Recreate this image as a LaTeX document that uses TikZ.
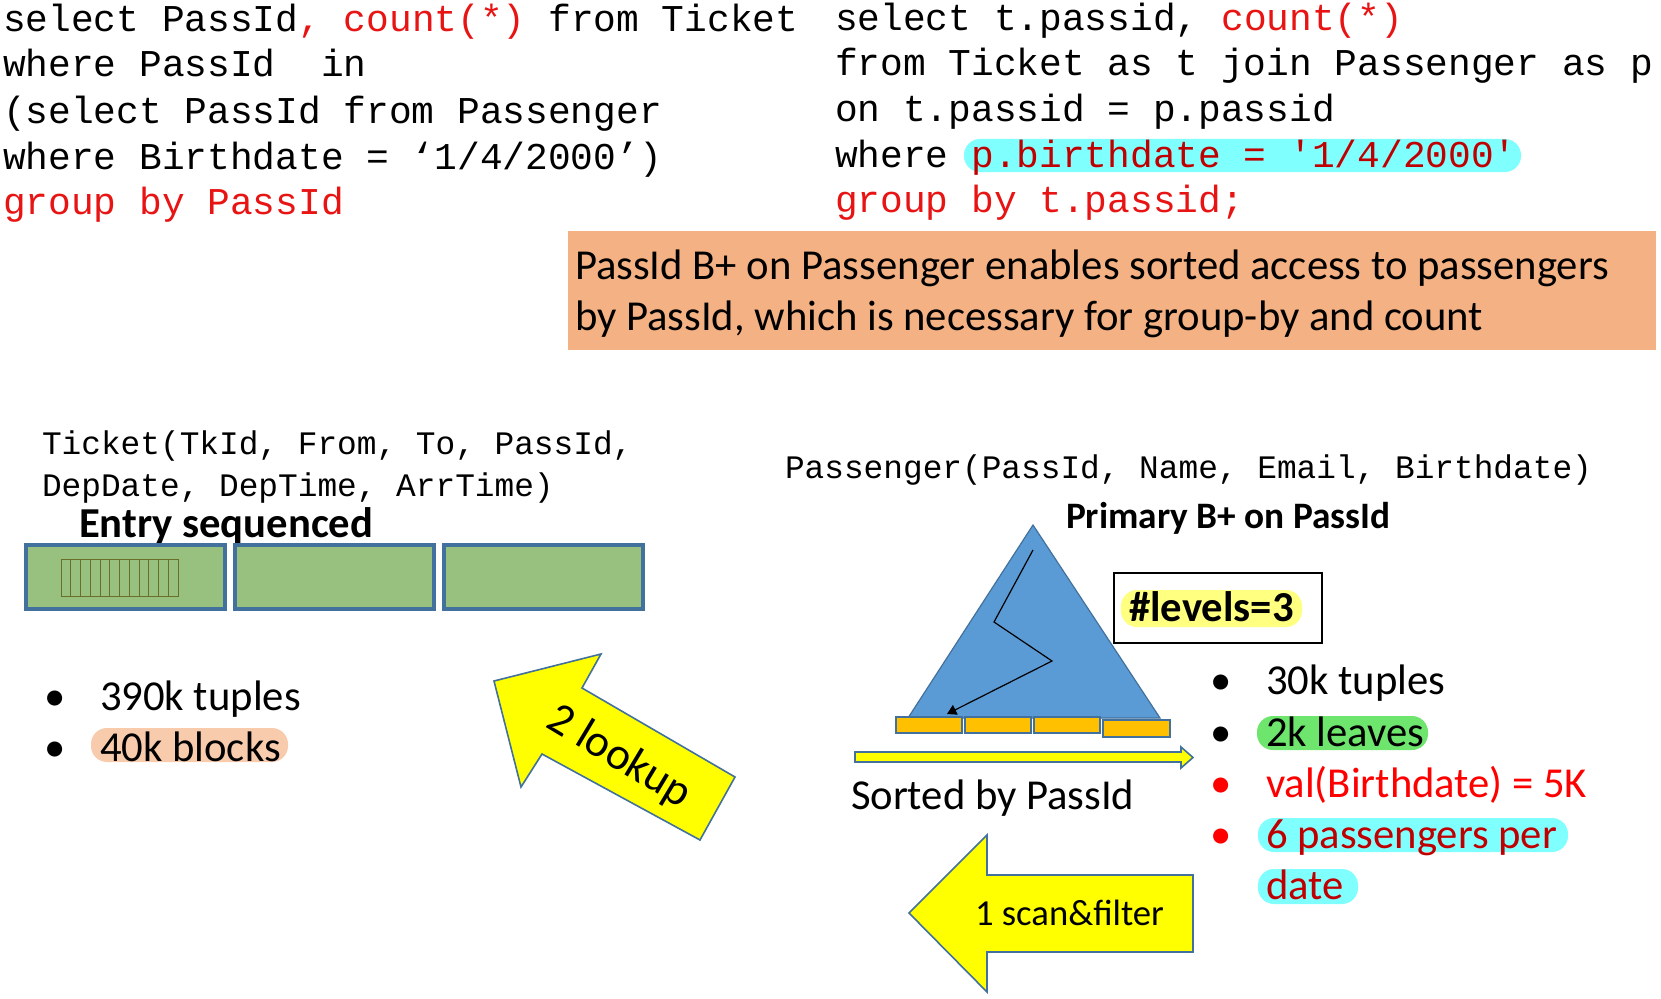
\documentclass[tikz,border=0pt]{standalone}
\usepackage{fontspec}
\setmainfont{Carlito}
\setmonofont{Liberation Mono}
\usetikzlibrary{arrows.meta}
\definecolor{codered}{RGB}{232,20,20}
\definecolor{darkred}{RGB}{192,0,0}
\definecolor{brightred}{RGB}{255,0,0}
\definecolor{orangebox}{RGB}{244,177,131}
\definecolor{peach}{RGB}{248,203,173}
\definecolor{cyanhl}{RGB}{128,255,255}
\definecolor{greenhl}{RGB}{110,230,110}
\definecolor{yellowhl}{RGB}{255,255,128}
\definecolor{blockgreen}{RGB}{152,193,128}
\definecolor{steel}{RGB}{65,113,156}
\definecolor{triblue}{RGB}{91,155,213}
\definecolor{leafor}{RGB}{255,192,0}
\definecolor{gridcol}{RGB}{105,110,40}
\definecolor{arrowyellow}{RGB}{255,255,0}
\begin{document}
\begin{tikzpicture}[x=0.75pt,y=-0.75pt,
  txt/.style={anchor=base west,inner sep=0pt,outer sep=0pt},
  code/.style={txt,font=\ttfamily\fontsize{28.4}{34}\selectfont},
  schema/.style={txt,font=\ttfamily\fontsize{24.6}{30}\selectfont},
  body/.style={txt,font=\fontsize{32}{38}\selectfont},
  bodyb/.style={txt,font=\bfseries\fontsize{32}{38}\selectfont},
  bullet/.style={anchor=base,inner sep=0pt,outer sep=0pt,font=\fontsize{32}{38}\selectfont},
  hl/.style={rounded corners=12pt},
  blockbox/.style={draw=steel,fill=blockgreen,line width=3pt},
  leaf/.style={draw=steel,fill=leafor,line width=0.9pt},
  blockarrow/.style={draw=steel,fill=arrowyellow,line width=1.2pt,line join=miter},
  gridline/.style={draw=gridcol,line width=0.7pt}
]
\useasboundingbox (0,0) rectangle (1661,999);

% ---------- SQL code ----------
\node[code] (l1) at (3,32) {select PassId\textcolor{codered}{, count(*)} from Ticket};
\node[code] (l2) at (3,77) {where PassId\ \ in};
\node[code] (l3) at (3,123) {(select PassId from Passenger};
\node[code] (l4) at (3,169) {where Birthdate = ‘1/4/2000’)};
\node[code,text=codered] (l5) at (3,214) {group by PassId};

\fill[cyanhl,hl] (964,139) rectangle (1521,172);
\node[code] (r1) at (835,31) {select t.passid, \textcolor{codered}{count(*)}};
\node[code] (r2) at (835,76) {from Ticket as t join Passenger as p};
\node[code] (r3) at (835,122) {on t.passid = p.passid};
\node[code] (r4) at (835,167) {where \textcolor{darkred}{p.birthdate = '1/4/2000'}};
\node[code,text=codered] (r5) at (835,212) {group by t.passid;};

% ---------- orange note ----------
\fill[orangebox] (568,231) rectangle (1656,350);
\node[body] (o1) at (575,279) {PassId B+ on Passenger enables sorted access to passengers};
\node[body] (o2) at (575,330) {by PassId, which is necessary for group-by and count};

% ---------- Ticket side ----------
\node[schema] (s1) at (42,454) {Ticket(TkId, From, To, PassId,};
\node[schema] (s2) at (42,496) {DepDate, DepTime, ArrTime)};
\node[bodyb] (es) at (79,537) {Entry sequenced};

\draw[blockbox] (26,545) rectangle (225,609);
\draw[blockbox] (235,545) rectangle (434,609);
\draw[blockbox] (444,545) rectangle (643,609);
\draw[gridline] (61,559) rectangle (178,596);
\foreach \i in {1,...,11} \draw[gridline] ({61+\i*117/12},559) -- ++(0,37);

\node[bullet] (lb1) at (55,710) {•};
\node[body] (lt1) at (100,710) {390k tuples};
\fill[peach,hl] (91,728) rectangle (288,762);
\node[bullet] (lb2) at (55,761) {•};
\node[body] (lt2) at (100,761) {40k blocks};

% ---------- 2 lookup arrow ----------
\draw[blockarrow] (494,681) -- (521,787) -- (542,754) -- (700,840) -- (735,777) -- (582,688) -- (601,654) -- cycle;
\node[inner sep=0pt,rotate=-31,font=\fontsize{34}{40}\selectfont] (lk) at (619,757) {2 lookup};

% ---------- Passenger side ----------
\node[schema] (s3) at (785,478) {Passenger(PassId, Name, Email, Birthdate)};
\node[txt,font=\bfseries\fontsize{28}{34}\selectfont] (pb) at (1066,528) {Primary B+ on PassId};

\draw[steel,fill=triblue,line width=0.9pt] (1033,525) -- (908,718) -- (1160,718) -- cycle;
\draw[leaf] (896,717) rectangle (962,733);
\draw[leaf] (965,717) rectangle (1031,733);
\draw[leaf] (1034,717) rectangle (1100,733);
\draw[leaf] (1103,720) rectangle (1170,737);
\coordinate (z0) at (1033,550);
\coordinate (z1) at (994,622);
\coordinate (z2) at (1052,661);
\coordinate (z3) at (947,714);
\draw[black,line width=0.9pt,-{Triangle[width=8pt,length=7pt]}] (z0) -- (z1) -- (z2) -- (z3);

\draw[black,line width=1pt] (1114,573) rectangle (1322,643);
\fill[yellowhl,hl] (1121,590) rectangle (1302,627);
\node[bodyb] (lv) at (1129,621) {\#levels=3};

\draw[blockarrow] (855,752) -- (1181,752) -- (1181,747) -- (1193,757.5) -- (1181,768) -- (1181,762) -- (855,762) -- cycle;
\node[body] (sb) at (851,809) {Sorted by PassId};

\node[bullet] (rb1) at (1221,694) {•};
\node[body] (rt1) at (1266,694) {30k tuples};
\fill[greenhl,hl] (1257,716) rectangle (1428,750);
\node[bullet] (rb2) at (1221,746) {•};
\node[body] (rt2) at (1266,746) {2k leaves};
\node[bullet,text=brightred] (rb3) at (1221,797) {•};
\node[body,text=brightred] (rt3) at (1266,797) {val(Birthdate) = 5K};
\fill[cyanhl,hl] (1258,818) rectangle (1568,852);
\fill[cyanhl,hl] (1258,869) rectangle (1358,904);
\node[bullet,text=brightred] (rb4) at (1221,848) {•};
\node[body,text=darkred] (rt4) at (1266,848) {6 passengers per};
\node[body,text=darkred] (rt5) at (1266,899) {date};

% ---------- 1 scan&filter arrow ----------
\draw[blockarrow] (909,913) -- (987,835) -- (987,875) -- (1193,875) -- (1193,952) -- (987,952) -- (987,992) -- cycle;
\node[txt,font=\fontsize{27.5}{32}\selectfont] (sf) at (975,925) {1 scan\&filter};
\end{tikzpicture}
\end{document}
